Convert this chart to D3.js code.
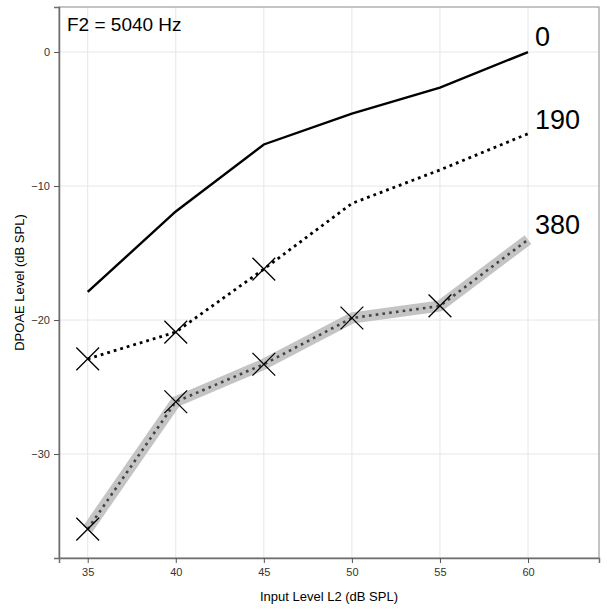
<!DOCTYPE html>
<html><head><meta charset="utf-8">
<script src="https://cdn.jsdelivr.net/npm/d3@7"></script>
<style>body{margin:0;background:#fff}svg{display:block}</style>
</head><body>
<script>
const levels = [35, 40, 45, 50, 55, 60];
const series0 = [-17.9, -11.9, -6.9, -4.6, -2.65, 0.0];
const series190 = [-22.9, -20.9, -16.2, -11.3, -8.8, -6.1];
const series380 = [-35.6, -26.1, -23.3, -19.85, -18.95, -14.0];
const markers190 = [35, 40, 45];
const markers380 = [35, 40, 45, 50, 55];
const seriesLabels = ["0", "190", "380"];
const labelY = [0.45, -5.75, -13.6];
const xTicks = [35, 40, 45, 50, 55, 60];
const yTicks = [0, -10, -20, -30];

const W = 607, H = 610;
const m = {l: 59, r: 8, t: 7, b: 52};
const svg = d3.select("body").append("svg").attr("width", W).attr("height", H);
const x = d3.scaleLinear().domain([33.37, 64.03]).range([m.l, W - m.r]);
const y = d3.scaleLinear().domain([-37.76, 3.36]).range([H - m.b, m.t]);
const font = "Liberation Sans, Arial, sans-serif";

// grid
svg.append("g").selectAll("line").data(xTicks).join("line")
  .attr("x1", d => x(d)).attr("x2", d => x(d)).attr("y1", m.t).attr("y2", H - m.b)
  .attr("stroke", "#e6e6e6").attr("stroke-width", 1);
svg.append("g").selectAll("line").data(yTicks).join("line")
  .attr("y1", d => y(d)).attr("y2", d => y(d)).attr("x1", m.l).attr("x2", W - m.r)
  .attr("stroke", "#e6e6e6").attr("stroke-width", 1);

// frame
svg.append("rect").attr("x", m.l).attr("y", m.t).attr("width", W - m.r - m.l).attr("height", H - m.b - m.t)
  .attr("fill", "none").attr("stroke", "#8a8a8a").attr("stroke-width", 1);

// axes
const xAxis = svg.append("g").attr("transform", `translate(0,${H - m.b})`)
  .call(d3.axisBottom(x).tickValues(xTicks).tickSize(5).tickPadding(5));
const yAxis = svg.append("g").attr("transform", `translate(${m.l},0)`)
  .call(d3.axisLeft(y).tickValues(yTicks).tickSize(5).tickPadding(4));
[xAxis, yAxis].forEach(g => {
  g.select(".domain").attr("stroke", "#6e6e6e").attr("stroke-width", 1.5);
  g.selectAll(".tick line").attr("stroke", "#555");
  g.selectAll(".tick text").attr("fill", "#333").style("font-family", font).style("font-size", "11px");
});

const line = d3.line().x((d, i) => x(levels[i])).y(d => y(d));

// series 380: gray band + dotted dark line
svg.append("path").datum(series380).attr("d", line).attr("fill", "none")
  .attr("stroke", "#c4c4c4").attr("stroke-width", 11).attr("stroke-linejoin", "round");
svg.append("path").datum(series380).attr("d", line).attr("fill", "none")
  .attr("stroke", "#444").attr("stroke-width", 2.6).attr("stroke-dasharray", "2.6,4.2");
// series 190 dotted
svg.append("path").datum(series190).attr("d", line).attr("fill", "none")
  .attr("stroke", "#000").attr("stroke-width", 2.8).attr("stroke-dasharray", "2.8,4");
// series 0 solid
svg.append("path").datum(series0).attr("d", line).attr("fill", "none")
  .attr("stroke", "#000").attr("stroke-width", 2.4);

// X markers
const sym = d3.symbol().type(d3.symbolX).size(340);
function markers(list, vals) {
  svg.append("g").selectAll("path").data(list).join("path")
    .attr("d", sym)
    .attr("transform", d => `translate(${x(d)},${y(vals[levels.indexOf(d)])})`)
    .attr("fill", "none").attr("stroke", "#000").attr("stroke-width", 1.3);
}
markers(markers190, series190);
markers(markers380, series380);

// series labels
svg.append("g").selectAll("text").data(seriesLabels).join("text")
  .attr("x", 535).attr("y", (d, i) => y(labelY[i]))
  .text(d => d).style("font-family", font).style("font-size", "27px").attr("fill", "#000");

// title in panel
svg.append("text").attr("x", 67).attr("y", 31).text("F2 = 5040 Hz")
  .style("font-family", font).style("font-size", "19px").attr("fill", "#000");

// axis titles
svg.append("text").attr("x", (m.l + W - m.r) / 2).attr("y", 601).attr("text-anchor", "middle")
  .text("Input Level L2 (dB SPL)").style("font-family", font).style("font-size", "13px").attr("fill", "#000");
svg.append("text").attr("transform", `translate(24,${(m.t + H - m.b) / 2}) rotate(-90)`).attr("text-anchor", "middle")
  .text("DPOAE Level (dB SPL)").style("font-family", font).style("font-size", "13px").attr("fill", "#000");
</script>
</body></html>
